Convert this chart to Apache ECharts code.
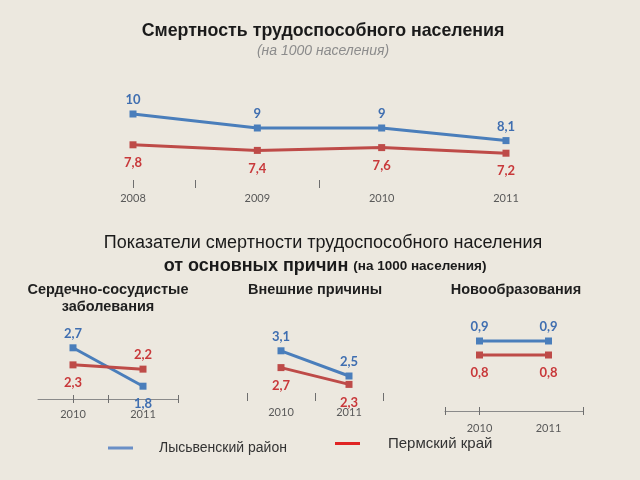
<!DOCTYPE html>
<html><head><meta charset="utf-8">
<script src="https://cdn.jsdelivr.net/npm/echarts@6/dist/echarts.min.js"></script>
<style>html,body{margin:0;padding:0;background:#ECE8DF;} #c{width:640px;height:480px;}</style>
</head><body><div id="c"></div>
<script>
const yearsMain = ['2008', '2009', '2010', '2011'];
const lysvaMain = [10, 9, 9, 8.1];
const permMain = [7.8, 7.4, 7.6, 7.2];
const yearsCause = ['2010', '2011'];
const lysvaCardio = [2.7, 1.8];
const permCardio = [2.3, 2.2];
const lysvaExternal = [3.1, 2.5];
const permExternal = [2.7, 2.3];
const lysvaNeo = [0.9, 0.9];
const permNeo = [0.8, 0.8];
const seriesNames = ['Лысьвенский район', 'Пермский край'];

const BLUE = '#4A7EBB', RED = '#BE4B48';
const BLUE_LBL = '#3F6EB0', RED_LBL = '#C8383A';
const SANS = '"Liberation Sans", Arial, sans-serif';

const grids = [], xAxes = [], yAxes = [], series = [];

function panel(p) {
  const gi = grids.length;
  grids.push(p.grid);
  const xi = xAxes.length;
  xAxes.push({
    type: 'category', gridIndex: gi, data: p.cats, boundaryGap: p.boundaryGap, position: 'bottom',
    axisLine: { show: p.showLine, onZero: false, lineStyle: { color: '#8a8a8a', width: 1 } },
    axisTick: { show: false },
    axisLabel: { color: '#595959', fontFamily: 'Lato', fontSize: 11, margin: p.labelMargin }
  });
  xAxes.push({
    type: 'category', gridIndex: gi, boundaryGap: false, position: 'bottom', offset: 4, silent: true,
    data: Array.from({ length: p.helperCount }, (_, i) => 'h' + i),
    axisLine: { show: false, onZero: false },
    axisTick: { show: true, inside: true, length: 8, interval: (i) => p.ticks.includes(i), lineStyle: { color: '#6e6e6e', width: 1 } },
    axisLabel: { show: false }, splitLine: { show: false }
  });
  yAxes.push({ type: 'value', gridIndex: gi, min: p.ymin, max: p.ymax, show: false, splitLine: { show: false } });
  const mk = (name, vals, pos, color, lblColor) => ({
    type: 'line', name: name, xAxisIndex: xi, yAxisIndex: gi,
    data: vals.map((v, i) => ({ value: v, label: { position: pos[i], distance: pos[i] === 'top' ? 4 : 8 } })),
    symbol: 'rect', symbolSize: 7, color: color,
    lineStyle: { width: 3, color: color }, itemStyle: { color: color },
    label: { show: true, color: lblColor, fontFamily: 'Lato', fontWeight: 'bold', fontSize: 13,
      formatter: (d) => String(d.value).replace('.', ',') },
    animation: false
  });
  series.push(mk(seriesNames[0], p.blue, p.bluePos, BLUE, BLUE_LBL));
  series.push(mk(seriesNames[1], p.red, p.redPos, RED, RED_LBL));
}

panel({ grid: { left: 133, right: 134, top: 86, height: 98 }, ymin: 5, ymax: 12, cats: yearsMain,
  blue: lysvaMain, red: permMain, bluePos: ['top', 'top', 'top', 'top'], redPos: ['bottom', 'bottom', 'bottom', 'bottom'],
  boundaryGap: false, showLine: false, helperCount: 7, ticks: [0, 1, 3], labelMargin: 9 });
panel({ grid: { left: 38, right: 462, top: 335, height: 64 }, ymin: 1.5, ymax: 3, cats: yearsCause,
  blue: lysvaCardio, red: permCardio, bluePos: ['top', 'bottom'], redPos: ['bottom', 'top'],
  boundaryGap: true, showLine: true, helperCount: 5, ticks: [1, 2, 4], labelMargin: 10 });
panel({ grid: { left: 247, right: 257, top: 334, height: 63 }, ymin: 2, ymax: 3.5, cats: yearsCause,
  blue: lysvaExternal, red: permExternal, bluePos: ['top', 'top'], redPos: ['bottom', 'bottom'],
  boundaryGap: true, showLine: false, helperCount: 5, ticks: [0, 2, 4], labelMargin: 10 });
panel({ grid: { left: 445, right: 57, top: 327, height: 84 }, ymin: 0.4, ymax: 1.0, cats: yearsCause,
  blue: lysvaNeo, red: permNeo, bluePos: ['top', 'top'], redPos: ['bottom', 'bottom'],
  boundaryGap: true, showLine: true, helperCount: 5, ticks: [0, 1, 4], labelMargin: 12 });

const chart = echarts.init(document.getElementById('c'), null, { renderer: 'canvas' });
chart.setOption({
  backgroundColor: '#ECE8DF',
  animation: false,
  title: [
    { text: 'Смертность трудоспособного населения', left: 323, textAlign: 'center', top: 22, padding: 0,
      textStyle: { fontFamily: SANS, fontWeight: 'bold', fontSize: 17.8, color: '#1a1a1a' } },
    { text: '(на 1000 населения)', left: 323, textAlign: 'center', top: 44, padding: 0,
      textStyle: { fontFamily: SANS, fontStyle: 'italic', fontWeight: 'normal', fontSize: 14, color: '#8c8c8c' } },
    { text: 'Показатели смертности трудоспособного населения', left: 323, textAlign: 'center', top: 234, padding: 0,
      textStyle: { fontFamily: SANS, fontWeight: 'normal', fontSize: 18, color: '#1a1a1a' } },
    { text: '{a|от основных причин} {b|(на 1000 населения)}', left: 325, textAlign: 'center', top: 257, padding: 0,
      textStyle: { fontWeight: 'normal', rich: {
        a: { fontFamily: SANS, fontWeight: 'bold', fontSize: 18, color: '#1a1a1a' },
        b: { fontFamily: SANS, fontWeight: 'bold', fontSize: 13.5, color: '#1a1a1a' } } } },
    { text: 'Сердечно-сосудистые\nзаболевания', left: 108, textAlign: 'center', top: 281, padding: 0,
      textStyle: { fontFamily: SANS, fontWeight: 'bold', fontSize: 14.5, lineHeight: 17, color: '#1f1f1f' } },
    { text: 'Внешние причины', left: 315, textAlign: 'center', top: 281, padding: 0,
      textStyle: { fontFamily: SANS, fontWeight: 'bold', fontSize: 14.5, lineHeight: 17, color: '#1f1f1f' } },
    { text: 'Новообразования', left: 516, textAlign: 'center', top: 281, padding: 0,
      textStyle: { fontFamily: SANS, fontWeight: 'bold', fontSize: 14.5, lineHeight: 17, color: '#1f1f1f' } }
  ],
  legend: [
    { data: [{ name: seriesNames[0], itemStyle: { color: '#6A8FC6' } }], left: 108, top: 441, padding: 0,
      icon: 'rect', itemWidth: 25, itemHeight: 3,
      textStyle: { fontFamily: SANS, fontSize: 14, color: '#333', padding: [0, 0, 0, 21] } },
    { data: [{ name: seriesNames[1], itemStyle: { color: '#E02424' } }], left: 335, top: 436, padding: 0,
      icon: 'rect', itemWidth: 25, itemHeight: 3,
      textStyle: { fontFamily: SANS, fontSize: 15, color: '#333', padding: [0, 0, 0, 23] } }
  ],
  grid: grids, xAxis: xAxes, yAxis: yAxes, series: series
});
</script></body></html>
